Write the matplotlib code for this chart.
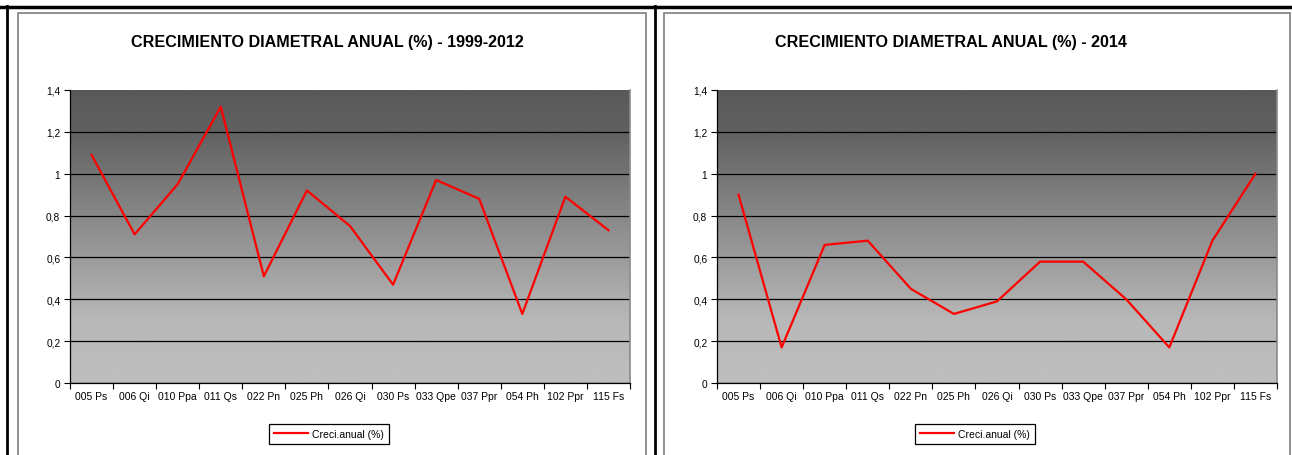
import numpy as np
import matplotlib
matplotlib.use("Agg")
import matplotlib.pyplot as plt
from matplotlib.patches import Rectangle
from matplotlib.lines import Line2D
from matplotlib.ticker import FuncFormatter, FixedLocator

plt.rcParams["font.family"] = ["Liberation Sans", "DejaVu Sans"]

species = ["005 Ps", "006 Qi", "010 Ppa", "011 Qs", "022 Pn", "025 Ph", "026 Qi",
           "030 Ps", "033 Qpe", "037 Ppr", "054 Ph", "102 Ppr", "115 Fs"]
growth_1999_2012 = [1.09, 0.71, 0.95, 1.32, 0.51, 0.92, 0.75, 0.47, 0.97, 0.88, 0.33, 0.89, 0.73]
growth_2014 = [0.90, 0.17, 0.66, 0.68, 0.45, 0.33, 0.39, 0.58, 0.58, 0.40, 0.17, 0.68, 1.00]
titles = ["CRECIMIENTO DIAMETRAL ANUAL (%) - 1999-2012",
          "CRECIMIENTO DIAMETRAL ANUAL (%) - 2014"]
series_name = "Creci.anual (%)"
y_ticks = [0, 0.2, 0.4, 0.6, 0.8, 1.0, 1.2, 1.4]

W, H = 1292, 456
fig = plt.figure(figsize=(W / 100, H / 100), dpi=100)


def px(x, y):
    return x / W, 1 - y / H


# outer frames (Excel sheet borders)
for x0, x1 in [(18, 646), (664, 1290)]:
    fig.add_artist(Rectangle(px(x0, 470), (x1 - x0) / W, (470 - 14) / H,
                             transform=fig.transFigure, fill=False,
                             edgecolor="#7f7f7f", lw=1.2))
fig.add_artist(Line2D([0, 1], [px(0, 8)[1]] * 2, transform=fig.transFigure,
                      color="black", lw=2.5))
for xv in [7, 655]:
    fig.add_artist(Line2D([xv / W] * 2, [0, px(0, 7)[1]], transform=fig.transFigure,
                          color="black", lw=2))

# background gradient of the plot area (levels in data units -> gray value)
grad_y = np.linspace(0, 1.4, 300)
grad_v = np.interp(grad_y, [0, 0.3, 1.2, 1.4], [0.745, 0.72, 0.38, 0.35])
grad = np.repeat(grad_v[::-1, None], 2, axis=1)

panels = [(70, 630, growth_1999_2012, titles[0], 327, 329),
          (717, 1277, growth_2014, titles[1], 951, 975)]

for left, right, vals, title, tx, lx in panels:
    ax = fig.add_axes([left / W, (H - 384) / H, (right - left) / W, (384 - 91) / H])
    n = len(species)
    ax.imshow(grad, extent=[0, n, 0, 1.4], aspect="auto", cmap="gray",
              vmin=0, vmax=1, zorder=0)
    x = np.arange(n) + 0.5
    ax.plot(x, vals, color="#ff0000", lw=1.6, zorder=3)
    ax.set_xlim(0, n)
    ax.set_ylim(0, 1.4)
    ax.set_axisbelow(True)
    ax.yaxis.set_major_locator(FixedLocator(y_ticks))
    ax.yaxis.set_major_formatter(FuncFormatter(
        lambda v, p: f"{v:.1f}".rstrip("0").rstrip(".").replace(".", ",")))
    ax.grid(axis="y", color="black", lw=0.9)
    # no gridline on the top edge of the plot area
    ax.yaxis.get_gridlines()[-1].set_visible(False)
    ax.xaxis.set_major_locator(FixedLocator(np.arange(n + 1)))
    ax.xaxis.set_major_formatter(FuncFormatter(lambda v, p: ""))
    ax.set_xticks(x, minor=True)
    ax.set_xticklabels(species, minor=True)
    ax.tick_params(axis="x", which="minor", length=0, labelsize=7.5, pad=6)
    ax.tick_params(axis="x", which="major", length=4, width=0.8, color="black")
    ax.tick_params(axis="y", length=4, width=0.8, labelsize=7.3, pad=3)
    ax.spines["top"].set_visible(False)
    ax.spines["right"].set_color("#8a8a8a")
    ax.spines["right"].set_linewidth(1.2)
    for s in ["left", "bottom"]:
        ax.spines[s].set_color("black")
        ax.spines[s].set_linewidth(0.9)

    fig.text(tx / W, px(0, 42)[1], title, ha="center", va="center",
             fontsize=11.6, fontweight="bold")
    handle = Line2D([], [], color="#ff0000", lw=1.6)
    leg = fig.legend([handle], [series_name], loc="center",
                     bbox_to_anchor=px(lx, 435), fontsize=7.5, frameon=True,
                     fancybox=False, edgecolor="black", framealpha=1,
                     handlelength=3.2, borderpad=0.5, handletextpad=0.4)
    leg.get_frame().set_linewidth(0.9)

fig.savefig("out.png", dpi=100)
